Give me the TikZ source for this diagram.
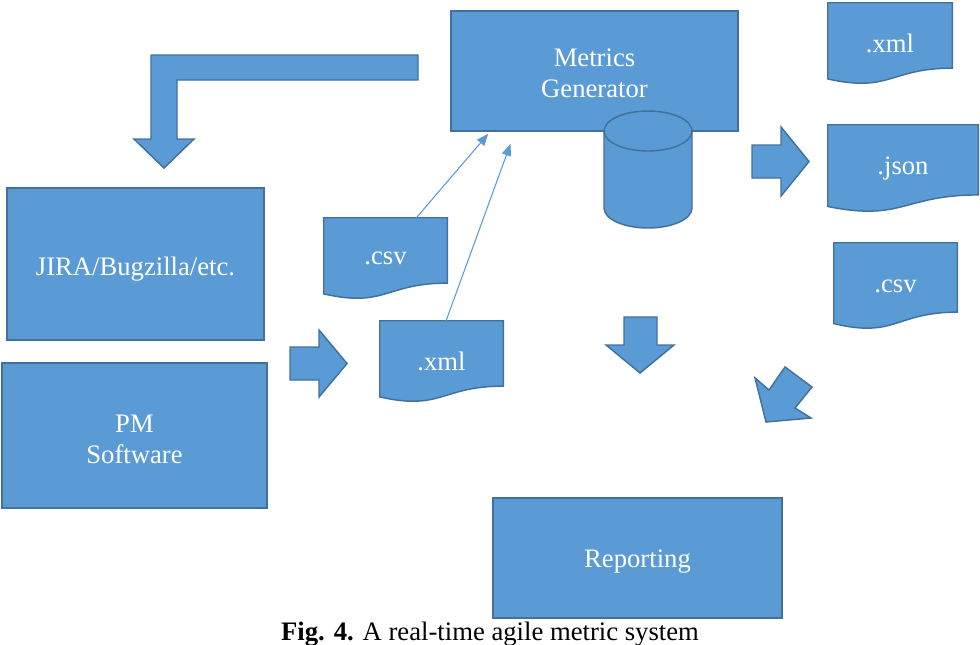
\documentclass[tikz,border=0pt]{standalone}
\usepackage{fontspec}
\setmainfont{Liberation Serif}
\usetikzlibrary{calc,arrows.meta}
\pgfdeclarelayer{background}
\pgfsetlayers{background,main}
\definecolor{boxfill}{HTML}{5B9BD5}
\definecolor{boxline}{HTML}{41719C}
\tikzset{
  shapestyle/.style={fill=boxfill,draw=boxline,line width=1.1pt,line join=miter},
  boxnode/.style={shapestyle,rectangle,inner sep=0pt},
  boxtext/.style={inner sep=0pt,text=white,font=\fontsize{20}{23}\selectfont,align=center},
  docnode/.style={inner sep=0pt,text=white,font=\fontsize{20}{23}\selectfont},
  thinarrow/.style={draw=boxfill,line width=0.8pt,-{Triangle[length=9pt,width=7pt]}}
}
\newcommand{\docshape}[1]{%
  \begin{pgfonlayer}{background}
  \path[shapestyle] (#1.north west) -- (#1.north east) -- ($(#1.north east)!0.802!(#1.south east)$)
    .. controls ($(#1.north)!0.802!(#1.south)$) and ($(#1.north)!1.1075!(#1.south)$) ..
    ($(#1.north west)!0.934!(#1.south west)$) -- cycle;
  \end{pgfonlayer}}
\begin{document}
\begin{tikzpicture}[x=0.75pt,y=-0.75pt]
\useasboundingbox (0,0) rectangle (980,644);

% bent arrow
\path[shapestyle] (418,55) -- (151,55) -- (151,139) -- (134,139) -- (164,168) -- (194,139) -- (177,139) -- (177,80) -- (418,80) -- cycle;

% main boxes
\node[boxnode,minimum width=287*0.75pt,minimum height=120*0.75pt] (mg) at (594.5,71) {};
\node[boxtext] (mgt) at ($(mg.center)+(0,2)$) {Metrics\\Generator};
\node[boxnode,minimum width=257*0.75pt,minimum height=152*0.75pt] (jira) at (135.5,264) {};
\node[boxtext] (jirat) at ($(jira.center)+(0,5)$) {JIRA/Bugzilla/etc.};
\node[boxnode,minimum width=265*0.75pt,minimum height=145*0.75pt] (pm) at (134.5,435.5) {};
\node[boxtext] (pmt) at ($(pm.center)+(0,4)$) {PM\\Software};
\node[boxnode,minimum width=289*0.75pt,minimum height=120*0.75pt] (rep) at (637.5,558) {};
\node[boxtext] (rept) at ($(rep.center)+(0,4)$) {Reporting};

% cylinder
\node[minimum width=88*0.75pt,minimum height=117*0.75pt,inner sep=0pt] (db) at (648,170) {};
\path[shapestyle] (604,131) -- (604,208) arc[start angle=180,end angle=360,x radius=33pt,y radius=15pt] -- (692,131) -- cycle;
\path[shapestyle] (648,131) ellipse [x radius=33pt,y radius=15pt];

% documents
\node[docnode,minimum width=124*0.75pt,minimum height=81*0.75pt] (xmlR) at (890,43.5) {.xml};
\node[docnode,minimum width=150*0.75pt,minimum height=87*0.75pt] (jsonR) at (903,168.5) {.json};
\node[docnode,minimum width=123*0.75pt,minimum height=86*0.75pt] (csvR) at (895.5,286) {.csv};
\node[docnode,minimum width=123*0.75pt,minimum height=81*0.75pt] (csvL) at (385.5,258.5) {.csv};
\node[docnode,minimum width=123*0.75pt,minimum height=81*0.75pt] (xmlL) at (441.5,361.5) {.xml};
\docshape{xmlR}
\docshape{jsonR}
\docshape{csvR}
\docshape{csvL}
\docshape{xmlL}

% block arrows
\path[shapestyle] (290,347) -- (319,347) -- (319,330) -- (347,363.5) -- (319,397) -- (319,380) -- (290,380) -- cycle;
\path[shapestyle] (752,145) -- (781,145) -- (781,127) -- (809,161.5) -- (781,196) -- (781,178) -- (752,178) -- cycle;
\path[shapestyle] (624,317) -- (657,317) -- (657,345) -- (674,345) -- (640,373) -- (606,345) -- (624,345) -- cycle;
\path[shapestyle] (766,422) -- (755,378) -- (769,390) -- (785,367) -- (812,387) -- (795,408) -- (811,418) -- cycle;

% thin arrows
\draw[thinarrow] ($(csvL.north west)!0.75!(csvL.north east)$) -- ($(mg.south west)!0.132!(mg.south east)+(0,2)$);
\draw[thinarrow] ($(xmlL.north west)!0.537!(xmlL.north east)$) -- ($(mg.south west)!0.209!(mg.south east)+(0,12)$);

% caption
\node[anchor=base,inner sep=0pt,font=\fontsize{20}{22}\selectfont] (cap) at (490,640) {\textbf{Fig. 4.} A real-time agile metric system};
\end{tikzpicture}
\end{document}
